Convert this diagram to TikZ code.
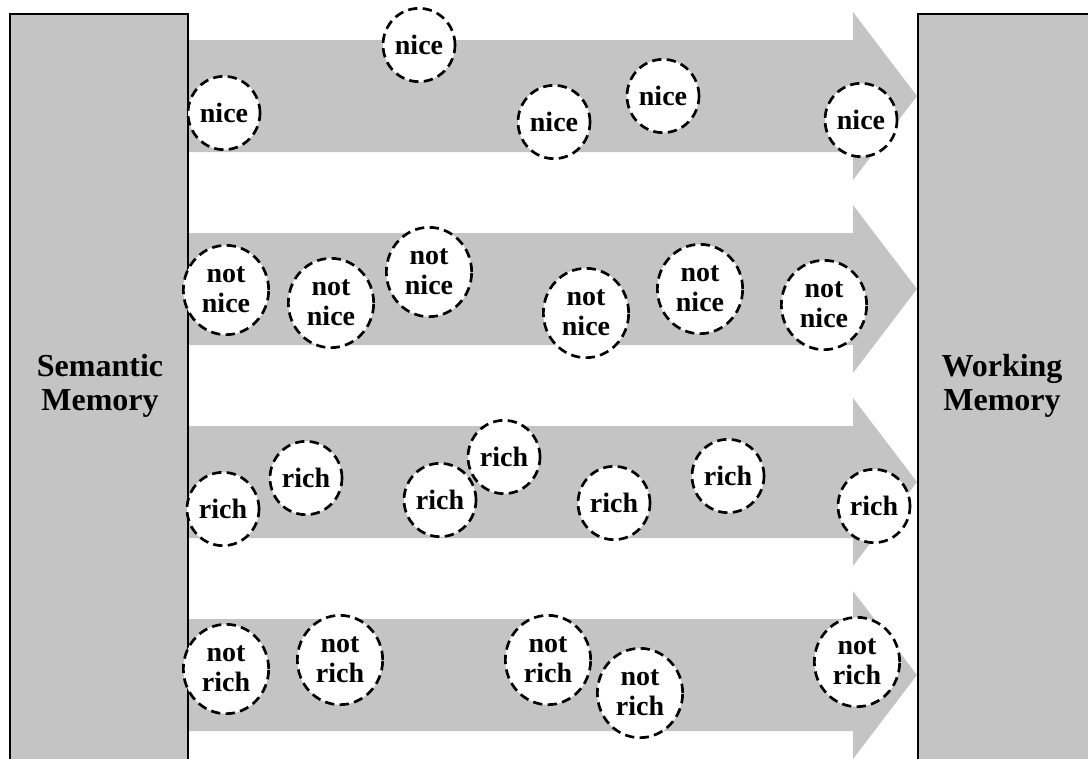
\documentclass[tikz,border=0pt]{standalone}
\usepackage{fontspec}
\setmainfont{Liberation Serif}
\usetikzlibrary{shapes.geometric}
\definecolor{texgray}{RGB}{196,196,196}
\tikzset{
  memorybox/.style={draw=black, line width=1.6pt, fill=texgray},
  flowband/.style={fill=texgray, draw=none},
  concept/.style={ellipse, draw=black, fill=white, line width=2pt,
    dash pattern=on 7pt off 4pt, inner sep=0pt, align=center,
    font=\fontsize{21}{22.5}\selectfont\bfseries},
  one/.style={concept, minimum width=54pt, minimum height=55pt},
  two/.style={concept, minimum width=64pt, minimum height=67pt},
  memlabel/.style={align=center, font=\fontsize{24}{25}\selectfont\bfseries}
}
\begin{document}
\begin{tikzpicture}[x=0.75pt,y=-0.75pt]
\useasboundingbox (0,0) rectangle (1088,758);
% arrows (bands)
\foreach \c in {96,289,482,675}{
  \fill[texgray] (188,\c-56) -- (853,\c-56) -- (853,\c-84) -- (917,\c) -- (853,\c+84) -- (853,\c+56) -- (188,\c+56) -- cycle;
}
% memory boxes
\draw[memorybox] (10,14) rectangle (188,775);
\draw[memorybox] (918,14) rectangle (1095,775);
\node[memlabel] (sem) at (100,386) {Semantic\\Memory};
\node[memlabel] (work) at (1002,386) {Working\\Memory};
% row 1
\node[one] (n1) at (224,113) {nice};
\node[one] (n2) at (419,45) {nice};
\node[one] (n3) at (554,122) {nice};
\node[one] (n4) at (663,96) {nice};
\node[one] (n5) at (861,120) {nice};
% row 2
\node[two] (nn1) at (226,290) {not\\nice};
\node[two] (nn2) at (331,303) {not\\nice};
\node[two] (nn3) at (429,272) {not\\nice};
\node[two] (nn4) at (586,313) {not\\nice};
\node[two] (nn5) at (700,289) {not\\nice};
\node[two] (nn6) at (824,305) {not\\nice};
% row 3
\node[one] (r1) at (223,509) {rich};
\node[one] (r2) at (306,478) {rich};
\node[one] (r3) at (440,500) {rich};
\node[one] (r4) at (504,457) {rich};
\node[one] (r5) at (614,503) {rich};
\node[one] (r6) at (728,476) {rich};
\node[one] (r7) at (874,506) {rich};
% row 4
\node[two] (nr1) at (226,669) {not\\rich};
\node[two] (nr2) at (340,660) {not\\rich};
\node[two] (nr3) at (548,660) {not\\rich};
\node[two] (nr4) at (640,693) {not\\rich};
\node[two] (nr5) at (857,662) {not\\rich};
\end{tikzpicture}
\end{document}
